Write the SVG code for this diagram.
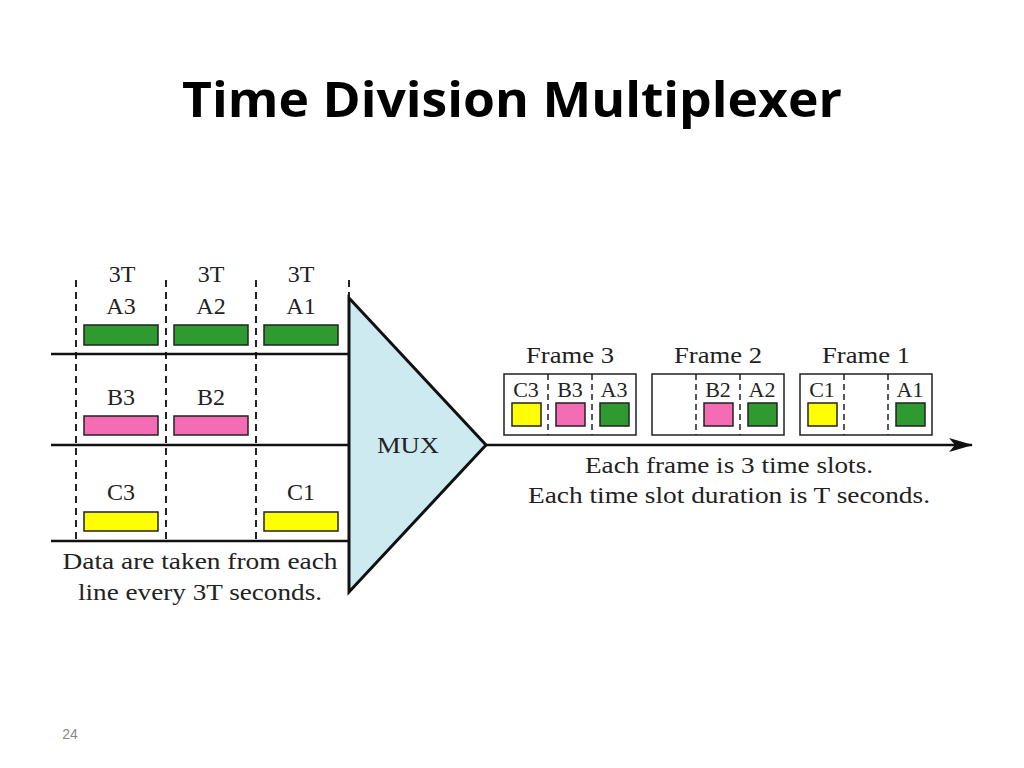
<svg xmlns="http://www.w3.org/2000/svg" width="1024" height="768" viewBox="0 0 1024 768">
<style>
.t{font-family:"Liberation Serif","DejaVu Serif",serif;font-size:24px;fill:#222;text-anchor:middle}
.s{font-family:"Liberation Serif","DejaVu Serif",serif;font-size:22px;fill:#222;text-anchor:middle}
.d{stroke:#222;stroke-width:2;stroke-dasharray:7,5;fill:none}
.l{stroke:#111;stroke-width:2.5;fill:none}
.g{fill:#2e9a30;stroke:#222;stroke-width:1.5}
.p{fill:#f46cb4;stroke:#222;stroke-width:1.5}
.y{fill:#ffff00;stroke:#222;stroke-width:1.5}
.f{fill:#fff;stroke:#222;stroke-width:1.5}
.fd{stroke:#222;stroke-width:1.5;stroke-dasharray:6,4}
</style>
<defs><marker id="ah" markerWidth="24" markerHeight="14" refX="23" refY="7" orient="auto" markerUnits="userSpaceOnUse"><path d="M0,0 L24,7 L0,14 L6,7 Z" fill="#111"/></marker></defs>
<rect width="1024" height="768" fill="#fff"/>
<text x="512" y="117" font-family="'Open Sans','Liberation Sans',sans-serif" font-weight="bold" font-size="48" text-anchor="middle" fill="#000" textLength="660" lengthAdjust="spacingAndGlyphs">Time Division Multiplexer</text>
<text x="70" y="739" font-family="'Liberation Sans',sans-serif" font-size="14" fill="#888" text-anchor="middle">24</text>
<g id="connectors">
<path class="d" d="M76,280V540M166,280V540M256,280V540M349,280V298"/>
<path class="l" d="M51,354H349M51,445H349M51,541H349"/>
<path class="l" d="M486,445H972" marker-end="url(#ah)"/>
</g>
<g id="inputs">
<text class="t" x="122" y="282">3T</text><text class="t" x="211" y="282">3T</text><text class="t" x="301" y="282">3T</text>
<text class="t" x="121" y="314">A3</text><text class="t" x="211" y="314">A2</text><text class="t" x="301" y="314">A1</text>
<rect class="g" x="84" y="325" width="74" height="20"/><rect class="g" x="174" y="325" width="74" height="20"/><rect class="g" x="264" y="325" width="74" height="20"/>
<text class="t" x="121" y="405">B3</text><text class="t" x="211" y="405">B2</text>
<rect class="p" x="84" y="416" width="74" height="19"/><rect class="p" x="174" y="416" width="74" height="19"/>
<text class="t" x="121" y="500">C3</text><text class="t" x="301" y="500">C1</text>
<rect class="y" x="84" y="512" width="74" height="19"/><rect class="y" x="264" y="512" width="74" height="19"/>
<text class="t" x="200" y="569" textLength="275" lengthAdjust="spacingAndGlyphs">Data are taken from each</text>
<text class="t" x="200" y="600" textLength="244" lengthAdjust="spacingAndGlyphs">line every 3T seconds.</text>
</g>
<g id="mux">
<polygon points="349,298 486,445 349,592" fill="#cdeaf0" stroke="#111" stroke-width="3"/>
<text class="t" x="408" y="453" textLength="62" lengthAdjust="spacingAndGlyphs">MUX</text>
</g>
<g id="frame3">
<text class="t" x="570" y="363" textLength="88" lengthAdjust="spacingAndGlyphs">Frame 3</text>
<rect class="f" x="504" y="374" width="132" height="61"/>
<path class="fd" d="M548,374V435M592,374V435"/>
<text class="s" x="526" y="397">C3</text><text class="s" x="570" y="397">B3</text><text class="s" x="614" y="397">A3</text>
<rect class="y" x="512" y="403" width="29" height="23"/><rect class="p" x="556" y="403" width="29" height="23"/><rect class="g" x="600" y="403" width="29" height="23"/>
</g>
<g id="frame2">
<text class="t" x="718" y="363" textLength="88" lengthAdjust="spacingAndGlyphs">Frame 2</text>
<rect class="f" x="652" y="374" width="132" height="61"/>
<path class="fd" d="M696,374V435M740,374V435"/>
<text class="s" x="718" y="397">B2</text><text class="s" x="762" y="397">A2</text>
<rect class="p" x="704" y="403" width="29" height="23"/><rect class="g" x="748" y="403" width="29" height="23"/>
</g>
<g id="frame1">
<text class="t" x="866" y="363" textLength="88" lengthAdjust="spacingAndGlyphs">Frame 1</text>
<rect class="f" x="800" y="374" width="132" height="61"/>
<path class="fd" d="M844,374V435M888,374V435"/>
<text class="s" x="822" y="397">C1</text><text class="s" x="910" y="397">A1</text>
<rect class="y" x="808" y="403" width="29" height="23"/><rect class="g" x="896" y="403" width="29" height="23"/>
</g>
<text class="t" x="729" y="473" textLength="288" lengthAdjust="spacingAndGlyphs">Each frame is 3 time slots.</text>
<text class="t" x="729" y="503" textLength="402" lengthAdjust="spacingAndGlyphs">Each time slot duration is T seconds.</text>
</svg>
